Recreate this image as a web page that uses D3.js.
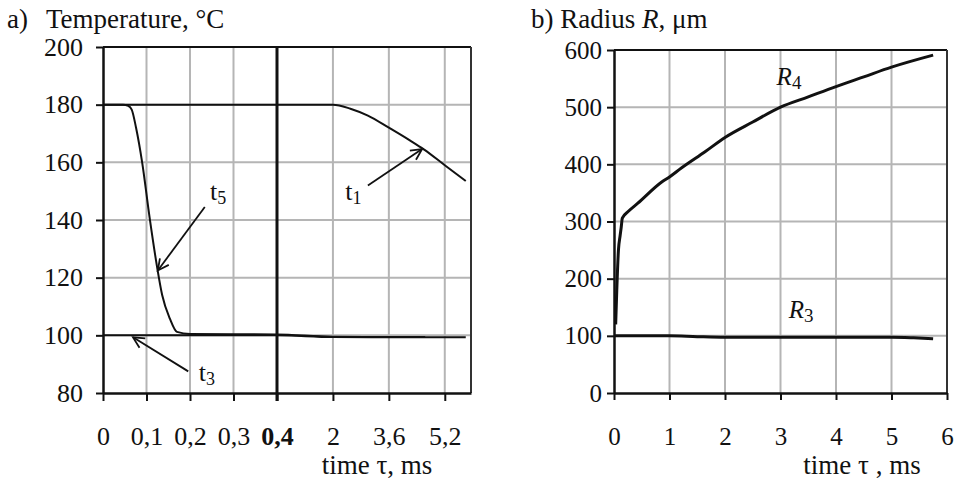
<!DOCTYPE html>
<html><head><meta charset="utf-8">
<script src="https://cdn.jsdelivr.net/npm/d3@7"></script>
<style>
body{margin:0;background:#fff}
svg{display:block}
svg text{font-family:"Liberation Serif","DejaVu Serif",serif;fill:#111}
</style>
</head><body>
<svg id="c" width="957" height="480"></svg>
<script>
// ---- Panel a) data ----
const tempTicks = [80, 100, 120, 140, 160, 180, 200];
const timeTicksA = [0, 0.1, 0.2, 0.3, 0.4, 2, 3.6, 5.2];
const timeLabelsA = ["0", "0,1", "0,2", "0,3", "0,4", "2", "3,6", "5,2"];
const t1 = [[0,180],[2.0,180],[2.5,178.6],[3.0,176.2],[3.6,172],[4.2,167.6],[4.6,164.5],[5.2,159],[5.8,153.5]];
const t5 = [[0,180],[0.046,180],[0.058,179.6],[0.066,178.3],[0.076,172],[0.09,160],[0.107,141],[0.124,124],[0.136,114],[0.154,105.7],[0.17,101.2],[0.2,100.5],[0.4,100.3],[2,99.5],[4.64,99.4]];
const t3 = [[0,100],[0.4,100],[2,99.4],[5.8,99.3]];
const labelsA = [
  {name:"t", sub:"1", lx:2.35, ly:147, ax:3.0, ay:152, bx:4.55, by:164.6},
  {name:"t", sub:"5", lx:0.246, ly:147, ax:0.234, ay:144.5, bx:0.126, by:122.5},
  {name:"t", sub:"3", lx:0.22, ly:84.2, ax:0.196, ay:87.5, bx:0.069, by:99.3}
];
// ---- Panel b) data ----
const radiusTicks = [0, 100, 200, 300, 400, 500, 600];
const timeTicksB = [0, 1, 2, 3, 4, 5, 6];
const R4 = [[0.03,120],[0.05,180],[0.08,250],[0.11,275],[0.13,290],[0.15,306],[0.25,317],[0.43,332],[0.86,369],[1.0,378],[1.22,394],[1.64,422],[2,447],[2.5,474],[3,500],[3.5,518],[4,536],[4.5,553],[5,570],[5.75,591]];
const R3 = [[0,100],[1,100],[1.5,98.5],[2,97.5],[3,97.5],[4,97.5],[5,97.5],[5.4,96.5],[5.75,95]];
const labelsB = [{name:"R", sub:"4", x:2.93, y:538}, {name:"R", sub:"3", x:3.15, y:132}];

const FONT = '"Liberation Serif","DejaVu Serif",serif';
const svg = d3.select("#c");
const grid = "#b5b5b5";

// ===== Panel a =====
const xA = d3.scaleLinear().domain([0, 0.4, 5.95]).range([103, 277, 471]);
const yA = d3.scaleLinear().domain([80, 200]).range([393, 47]);
const gA = svg.append("g");

gA.selectAll(".hg").data(tempTicks.filter(d => d > 80 && d < 200)).join("line")
  .attr("x1", xA(0)).attr("x2", xA(5.95)).attr("y1", d => yA(d)).attr("y2", d => yA(d))
  .attr("stroke", grid).attr("stroke-width", 2);
gA.selectAll(".vg").data(timeTicksA.filter(d => d !== 0 && d !== 0.4)).join("line")
  .attr("x1", d => xA(d)).attr("x2", d => xA(d)).attr("y1", yA(80)).attr("y2", yA(200))
  .attr("stroke", grid).attr("stroke-width", 2);
gA.append("line").attr("x1", xA(0)).attr("x2", xA(5.95)).attr("y1", yA(200)).attr("y2", yA(200)).attr("stroke", "#111").attr("stroke-width", 2);
gA.append("line").attr("x1", xA(5.95)).attr("x2", xA(5.95)).attr("y1", yA(200)).attr("y2", yA(80)).attr("stroke", "#333").attr("stroke-width", 2);
gA.append("line").attr("x1", xA(0.4)).attr("x2", xA(0.4)).attr("y1", yA(200)).attr("y2", yA(80) + 8).attr("stroke", "#111").attr("stroke-width", 3);

const lineA = d3.line().x(d => xA(d[0])).y(d => yA(d[1])).curve(d3.curveMonotoneX);
[t3, t5, t1].forEach(s => gA.append("path").attr("d", lineA(s)).attr("fill", "none").attr("stroke", "#111").attr("stroke-width", 2));

const axLA = gA.append("g").attr("transform", `translate(${xA(0)},0)`)
  .call(d3.axisLeft(yA).tickValues(tempTicks).tickSize(7).tickPadding(13).tickSizeOuter(0));
const axBA = gA.append("g").attr("transform", `translate(0,${yA(80)})`)
  .call(d3.axisBottom(xA).tickValues(timeTicksA).tickSize(8).tickPadding(26).tickSizeOuter(0)
    .tickFormat((d, i) => timeLabelsA[i]));
[axLA, axBA].forEach(a => {
  a.attr("font-family", FONT);
  a.select(".domain").attr("stroke", "#111").attr("stroke-width", 2.5);
  a.selectAll(".tick line").attr("stroke", "#111").attr("stroke-width", 2);
  a.selectAll("text").attr("font-size", 26).attr("fill", "#111");
});
axBA.selectAll(".tick").filter(d => d === 0.4).select("text").attr("font-weight", "bold");

const defs = svg.append("defs");
defs.append("marker").attr("id", "ah").attr("viewBox", "-12 -7 14 14").attr("markerWidth", 14).attr("markerHeight", 14)
  .attr("markerUnits", "userSpaceOnUse").attr("orient", "auto").attr("refX", 0).attr("refY", 0)
  .append("path").attr("d", "M-11,-5.5 L0,0 L-11,5.5").attr("fill", "none").attr("stroke", "#111").attr("stroke-width", 1.8);
labelsA.forEach(l => {
  gA.append("line").attr("x1", xA(l.ax)).attr("y1", yA(l.ay)).attr("x2", xA(l.bx)).attr("y2", yA(l.by))
    .attr("stroke", "#111").attr("stroke-width", 1.8).attr("marker-end", "url(#ah)");
  const t = gA.append("text").attr("x", xA(l.lx)).attr("y", yA(l.ly)).attr("font-size", 26);
  t.append("tspan").text(l.name);
  t.append("tspan").attr("font-size", 18).attr("dy", 4).text(l.sub);
});

svg.append("text").attr("x", 7).attr("y", 28).attr("font-size", 27).text("a)");
svg.append("text").attr("x", 46).attr("y", 28).attr("font-size", 27).text("Temperature, °C");
svg.append("text").attr("x", 377).attr("y", 474).attr("font-size", 27).attr("text-anchor", "middle").text("time τ, ms");

// ===== Panel b =====
const xB = d3.scaleLinear().domain([0, 6]).range([614, 947]);
const yB = d3.scaleLinear().domain([0, 600]).range([393, 50]);
const gB = svg.append("g");
gB.selectAll(".hg").data(radiusTicks.filter(d => d > 0 && d < 600)).join("line")
  .attr("x1", xB(0)).attr("x2", xB(6)).attr("y1", d => yB(d)).attr("y2", d => yB(d))
  .attr("stroke", grid).attr("stroke-width", 2);
gB.selectAll(".vg").data(timeTicksB.filter(d => d > 0 && d < 6)).join("line")
  .attr("x1", d => xB(d)).attr("x2", d => xB(d)).attr("y1", yB(0)).attr("y2", yB(600))
  .attr("stroke", grid).attr("stroke-width", 2);
gB.append("line").attr("x1", xB(0)).attr("x2", xB(6)).attr("y1", yB(600)).attr("y2", yB(600)).attr("stroke", "#111").attr("stroke-width", 2);
gB.append("line").attr("x1", xB(6)).attr("x2", xB(6)).attr("y1", yB(600)).attr("y2", yB(0)).attr("stroke", "#333").attr("stroke-width", 2);

const lineB = d3.line().x(d => xB(d[0])).y(d => yB(d[1])).curve(d3.curveMonotoneX);
[R3, R4].forEach(s => gB.append("path").attr("d", lineB(s)).attr("fill", "none").attr("stroke", "#111").attr("stroke-width", 3));

const axLB = gB.append("g").attr("transform", `translate(${xB(0)},0)`)
  .call(d3.axisLeft(yB).tickValues(radiusTicks).tickSize(7).tickPadding(5).tickSizeOuter(0).tickFormat(d3.format("d")));
const axBB = gB.append("g").attr("transform", `translate(0,${yB(0)})`)
  .call(d3.axisBottom(xB).tickValues(timeTicksB).tickSize(7).tickPadding(27).tickSizeOuter(0).tickFormat(d3.format("d")));
[axLB, axBB].forEach(a => {
  a.attr("font-family", FONT);
  a.select(".domain").attr("stroke", "#111").attr("stroke-width", 2.5);
  a.selectAll(".tick line").attr("stroke", "#111").attr("stroke-width", 2);
  a.selectAll("text").attr("font-size", 25).attr("fill", "#111");
});
labelsB.forEach(l => {
  const t = gB.append("text").attr("x", xB(l.x)).attr("y", yB(l.y)).attr("font-size", 25);
  t.append("tspan").attr("font-style", "italic").text(l.name);
  t.append("tspan").attr("font-size", 19).attr("dy", 4).text(l.sub);
});
const tb = svg.append("text").attr("x", 531).attr("y", 28).attr("font-size", 27);
tb.append("tspan").text("b) Radius ");
tb.append("tspan").attr("font-style", "italic").text("R");
tb.append("tspan").text(", μm");
svg.append("text").attr("x", 862).attr("y", 474).attr("font-size", 27).attr("text-anchor", "middle").text("time τ , ms");
</script>
</body></html>
